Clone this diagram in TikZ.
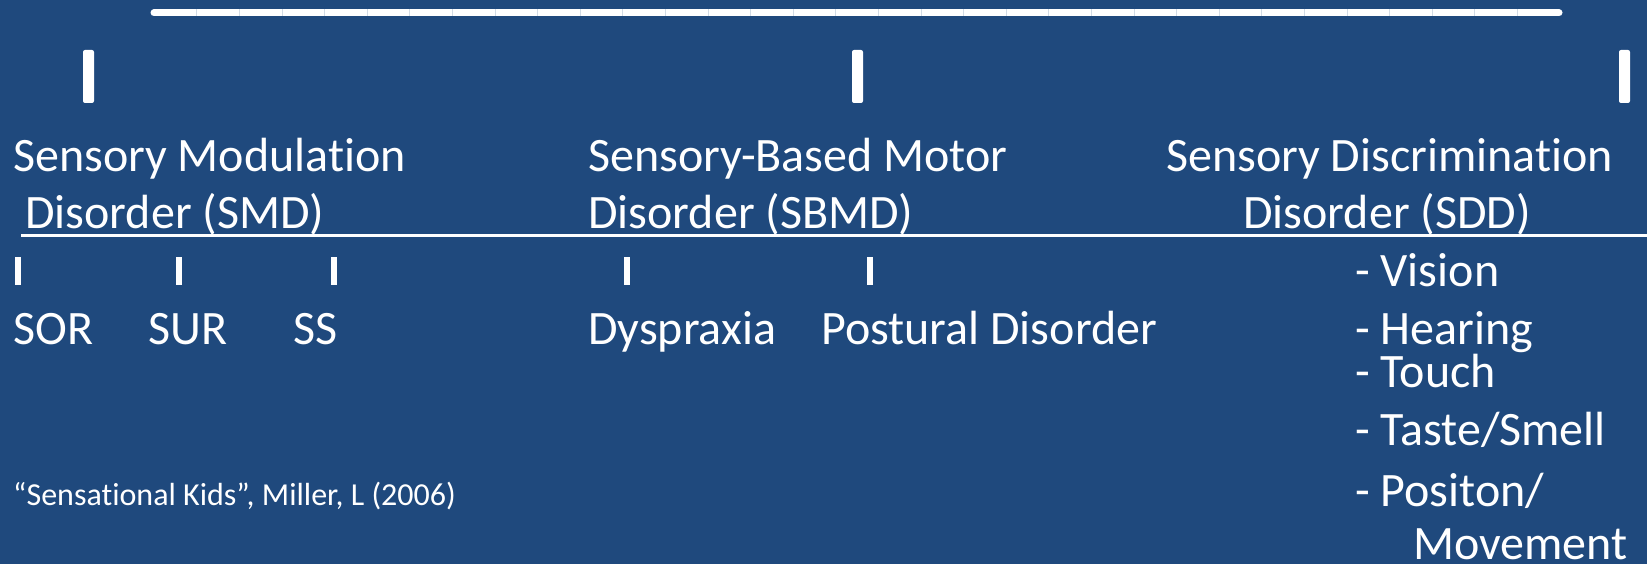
\documentclass[tikz,border=0pt]{standalone}
\usepackage{fontspec}
\setmainfont{Carlito}[Ligatures=NoCommon]
\definecolor{bg}{HTML}{1F497D}
\begin{document}
\begin{tikzpicture}[x=1pt,y=-1pt,
  txt/.style={text=white,inner sep=0pt,anchor=base west,font=\fontsize{48}{58}\selectfont},
  cite/.style={text=white,inner sep=0pt,anchor=base west,font=\fontsize{32}{38}\selectfont},
  bigbar/.style={fill=white,rounded corners=2pt},
  smallbar/.style={fill=white}]
\fill[bg] (0,0) rectangle (1647,564);
\useasboundingbox (0,0) rectangle (1647,564);
% top segmented line
\draw[white,line width=7pt,line cap=round] (154,13) -- (1559,13);
\foreach \i in {0,...,31}{
  \draw[white!80!bg,line width=0.5pt] ({196.7+42.6*\i},9.5) -- ({196.7+42.6*\i},16.5);
}
% big bars
\fill[bigbar] (83,50) rectangle (94,103);
\fill[bigbar] (852,50) rectangle (863,103);
\fill[bigbar] (1619,50) rectangle (1630,103);
% headers
\node[txt] (smd1) at (13,172) {Sensory Modulation};
\node[txt] (smd2) at (25,229) {Disorder (SMD)};
\node[txt] (sbmd1) at (588,172) {Sensory-Based Motor};
\node[txt] (sbmd2) at (588,229) {Disorder (SBMD)};
\node[txt] (sdd1) at (1166,172) {Sensory Discrimination};
\node[txt] (sdd2) at (1243,229) {Disorder (SDD)};
% underline
\draw[white,line width=2.2pt] (21,235.5) -- (1647,235.5);
% small bars
\foreach \x in {18,179,334,627,870}{
  \fill[smallbar] (\x-3,257) rectangle (\x+3,285);
}
% sub items
\node[txt] (sor) at (13,344) {SOR};
\node[txt] (sur) at (148,344) {SUR};
\node[txt] (ss) at (293,344) {SS};
\node[txt] (dys) at (588,344) {Dyspraxia};
\node[txt] (pos) at (821,344) {Postural Disorder};
% list
\node[txt] (vis) at (1355,287) {- Vision};
\node[txt] (hear) at (1355,344) {- Hearing};
\node[txt] (touch) at (1355,387) {- Touch};
\node[txt] (taste) at (1355,445) {- Taste/Smell};
\node[txt] (posi) at (1355,506) {- Positon/};
\node[txt] (mov) at (1413,559) {Movement};
% citation
\node[cite] (citation) at (13,505) {“Sensational Kids”, Miller, L (2006)};
\end{tikzpicture}
\end{document}
